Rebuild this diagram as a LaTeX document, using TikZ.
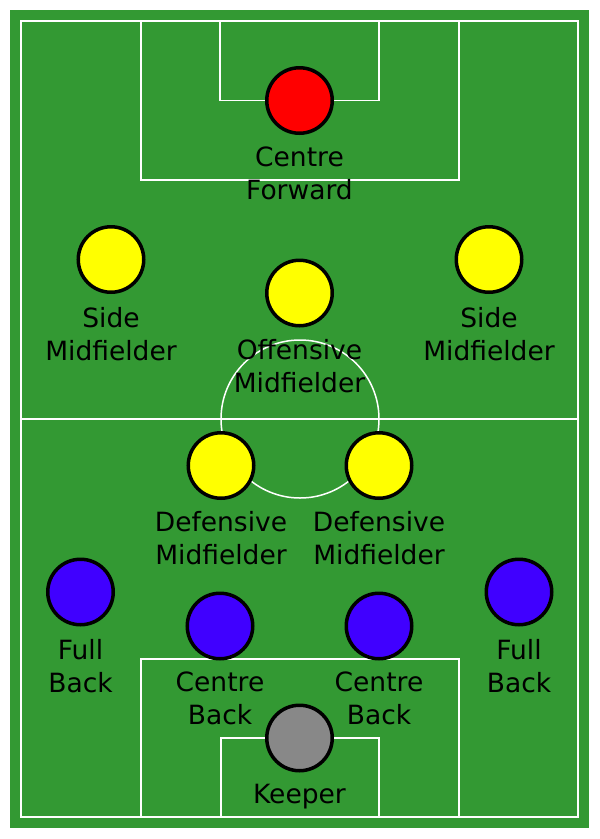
\documentclass[tikz,border=0pt]{standalone}
\usepackage{fontspec}
\setmainfont{DejaVu Sans}
\usetikzlibrary{calc}
\definecolor{pitch}{HTML}{339933}
\definecolor{fwd}{HTML}{FF0000}
\definecolor{mid}{HTML}{FFFF00}
\definecolor{def}{HTML}{4000FF}
\definecolor{gk}{HTML}{888888}
\begin{document}
\begin{tikzpicture}[x=1pt,y=-1pt,
  pline/.style={white,line width=1.5pt},
  player/.style={circle,draw=black,line width=3.5pt,minimum size=65.5pt,inner sep=0pt},
  lbl/.style={font=\fontsize{26.5}{33}\selectfont,align=center,anchor=base,inner sep=0pt}]
\useasboundingbox (0,0) rectangle (600,839);
\fill[white] (0,0) rectangle (600,839);
\fill[pitch] (10,10) rectangle (589,828);
% pitch markings
\draw[pline] (21,21) rectangle (578,817);
\draw[pline] (21,419) -- (578,419);
\draw[pline] (300,419) circle[radius=79pt];
\draw[pline] (141,21) |- (459,180) -- (459,21);
\draw[pline] (220,21) |- (379,100.5) -- (379,21);
\draw[pline] (141,817) |- (459,659) -- (459,817);
\draw[pline] (221,817) |- (379,738) -- (379,817);
% players
\node[player,fill=fwd] (cf) at (299.5,100.5) {};
\node[player,fill=mid] (sml) at (111,259.5) {};
\node[player,fill=mid] (smr) at (489,259.5) {};
\node[player,fill=mid] (om) at (299.5,293) {};
\node[player,fill=mid] (dml) at (221,465.5) {};
\node[player,fill=mid] (dmr) at (379,465.5) {};
\node[player,fill=def] (fbl) at (80.5,592) {};
\node[player,fill=def] (fbr) at (519,592) {};
\node[player,fill=def] (cbl) at (220,626) {};
\node[player,fill=def] (cbr) at (379,626) {};
\node[player,fill=gk] (kp) at (299.5,738) {};
% labels (base anchor = baseline of last line)
\node[lbl] (cft) at ($(cf)+(0,99)$) {Centre\\Forward};
\node[lbl] (smlt) at ($(sml)+(0,100.5)$) {Side\\Midfielder};
\node[lbl] (smrt) at ($(smr)+(0,100.5)$) {Side\\Midfielder};
\node[lbl] (omt) at ($(om)+(0,99)$) {Offensive\\Midfielder};
\node[lbl] (dmlt) at ($(dml)+(0,99)$) {Defensive\\Midfielder};
\node[lbl] (dmrt) at ($(dmr)+(0,99)$) {Defensive\\Midfielder};
\node[lbl] (fblt) at ($(fbl)+(0,100)$) {Full\\Back};
\node[lbl] (fbrt) at ($(fbr)+(0,100)$) {Full\\Back};
\node[lbl] (cblt) at ($(cbl)+(0,98)$) {Centre\\Back};
\node[lbl] (cbrt) at ($(cbr)+(0,98)$) {Centre\\Back};
\node[lbl] (kpt) at ($(kp)+(0,65.5)$) {Keeper};
\end{tikzpicture}
\end{document}
